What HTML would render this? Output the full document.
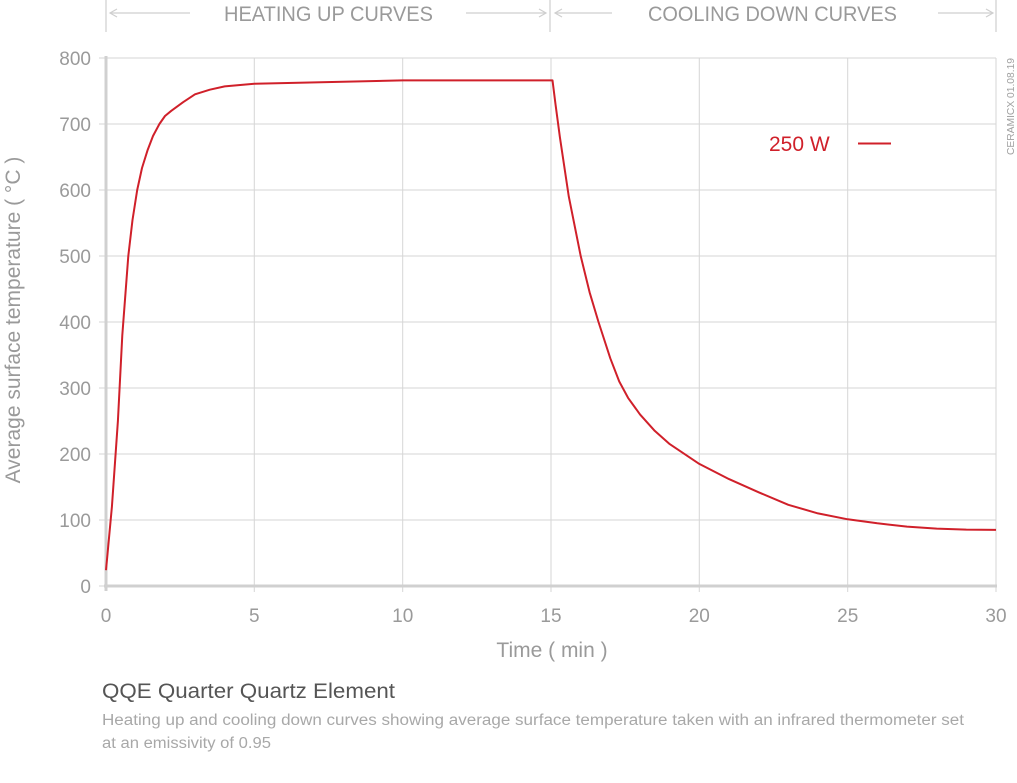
<!DOCTYPE html>
<html><head><meta charset="utf-8"><style>
html,body{margin:0;padding:0;background:#fff;}
svg{display:block;font-family:"Liberation Sans",sans-serif;}
</style></head><body>
<svg width="1017" height="783" viewBox="0 0 1017 783" xmlns="http://www.w3.org/2000/svg">
<g stroke="#cfcfcf" stroke-width="1.2" fill="none">
<line x1="106" y1="0" x2="106" y2="32"/>
<line x1="550" y1="0" x2="550" y2="32"/>
<line x1="996" y1="0" x2="996" y2="32"/>
<line x1="110" y1="13" x2="190" y2="13"/><polyline points="117,9 110,13 117,17"/>
<line x1="466" y1="13" x2="546" y2="13"/><polyline points="539,9 546,13 539,17"/>
<line x1="555" y1="13" x2="612" y2="13"/><polyline points="562,9 555,13 562,17"/>
<line x1="938" y1="13" x2="993" y2="13"/><polyline points="986,9 993,13 986,17"/>
</g>
<g fill="#9a9a9a" font-size="21">
<text x="224" y="21" textLength="209" lengthAdjust="spacingAndGlyphs">HEATING UP CURVES</text>
<text x="648" y="21" textLength="249" lengthAdjust="spacingAndGlyphs">COOLING DOWN CURVES</text>
</g>
<g stroke="#d6d6d6" stroke-width="1">
<line x1="106" y1="58" x2="996" y2="58"/>
<line x1="106" y1="124" x2="996" y2="124"/>
<line x1="106" y1="190" x2="996" y2="190"/>
<line x1="106" y1="256" x2="996" y2="256"/>
<line x1="106" y1="322" x2="996" y2="322"/>
<line x1="106" y1="388" x2="996" y2="388"/>
<line x1="106" y1="454" x2="996" y2="454"/>
<line x1="106" y1="520" x2="996" y2="520"/>
<line x1="254.3" y1="58" x2="254.3" y2="592"/>
<line x1="402.7" y1="58" x2="402.7" y2="592"/>
<line x1="551" y1="58" x2="551" y2="592"/>
<line x1="699.3" y1="58" x2="699.3" y2="592"/>
<line x1="847.7" y1="58" x2="847.7" y2="592"/>
<line x1="996" y1="58" x2="996" y2="592"/>
<line x1="99" y1="58" x2="106" y2="58"/>
<line x1="99" y1="124" x2="106" y2="124"/>
<line x1="99" y1="190" x2="106" y2="190"/>
<line x1="99" y1="256" x2="106" y2="256"/>
<line x1="99" y1="322" x2="106" y2="322"/>
<line x1="99" y1="388" x2="106" y2="388"/>
<line x1="99" y1="454" x2="106" y2="454"/>
<line x1="99" y1="520" x2="106" y2="520"/>
<line x1="99" y1="586" x2="106" y2="586"/>
</g>
<g stroke="#d0d0d0" stroke-width="3">
<line x1="106" y1="56" x2="106" y2="591"/>
<line x1="104" y1="586" x2="997" y2="586"/>
</g>
<g fill="#9a9a9a" font-size="19" text-anchor="end">
<text x="91" y="65">800</text>
<text x="91" y="131">700</text>
<text x="91" y="197">600</text>
<text x="91" y="263">500</text>
<text x="91" y="329">400</text>
<text x="91" y="395">300</text>
<text x="91" y="461">200</text>
<text x="91" y="527">100</text>
<text x="91" y="593">0</text>
</g>
<g fill="#9a9a9a" font-size="19" text-anchor="middle">
<text x="106" y="622">0</text>
<text x="254.3" y="622">5</text>
<text x="402.7" y="622">10</text>
<text x="551" y="622">15</text>
<text x="699.3" y="622">20</text>
<text x="847.7" y="622">25</text>
<text x="996" y="622">30</text>
<text x="552" y="657" font-size="21">Time ( min )</text>
<text transform="translate(20,320) rotate(-90)" font-size="21">Average surface temperature ( °C )</text>
</g>
<text transform="translate(1014,155) rotate(-90)" fill="#a0a0a0" font-size="10.5" textLength="97" lengthAdjust="spacingAndGlyphs">CERAMICX 01.08.19</text>
<text x="769" y="151" fill="#d0202a" font-size="21">250 W</text>
<line x1="858" y1="143.5" x2="891" y2="143.5" stroke="#d0202a" stroke-width="2"/>
<polyline fill="none" stroke="#d0202a" stroke-width="2" stroke-linejoin="round" points="106,570.2 111.9,506.8 117.9,421 122.3,335.2 128.3,256 132.5,220 137.2,190 142,168 147.5,150.4 153,136 159.4,124 165,116 171.3,110.8 183.1,102.2 195,94.3 209.8,89.7 224.7,86.4 254.3,83.7 402.7,80.4 551,80.4 552.5,80.4 555.5,104.2 559.9,137.2 568.8,196.6 580.7,256 589.6,292.3 598.5,322 610.3,358.3 619.2,381.4 628.1,397.9 640,414.4 654.8,430.9 669.7,444.1 699.3,463.9 729,479.1 758.7,492.3 788.3,504.8 818,513.4 847.7,519.3 877.3,523.3 907,526.6 936.7,528.6 966.3,529.6 996,529.9"/>
<text x="102" y="698" fill="#555" font-size="21" textLength="293" lengthAdjust="spacingAndGlyphs">QQE  Quarter Quartz Element</text>
<text x="102" y="725" fill="#a8a8a8" font-size="15.5" textLength="862" lengthAdjust="spacingAndGlyphs">Heating up and cooling down curves showing average surface temperature taken with an infrared thermometer set</text>
<text x="102" y="748" fill="#a8a8a8" font-size="15.5" textLength="169" lengthAdjust="spacingAndGlyphs">at an emissivity of 0.95</text>
</svg>
</body></html>
